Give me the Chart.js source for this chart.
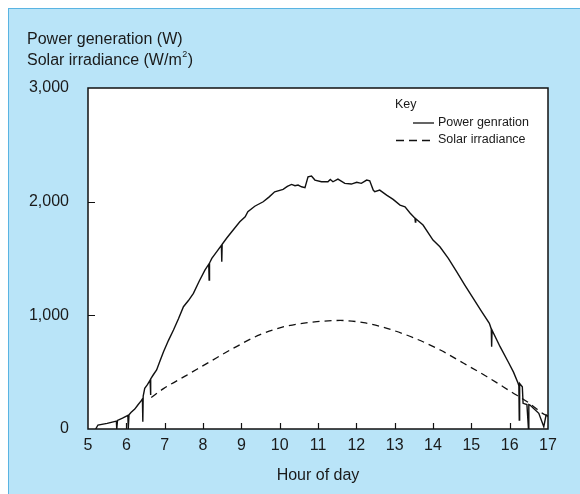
<!DOCTYPE html>
<html><head><meta charset="utf-8">
<script src="https://cdn.jsdelivr.net/npm/chart.js@4.4.1/dist/chart.umd.min.js"></script>
<style>
html,body{margin:0;padding:0;background:#fff;}
#wrap{position:relative;width:580px;height:494px;overflow:hidden;}
#panel{position:absolute;left:8px;top:8px;right:0;bottom:0;background:#b9e4f8;border-left:1px solid #5ab4e2;border-top:1px solid #5ab4e2;}
canvas{position:absolute;left:0;top:0;}
</style></head>
<body><div id="wrap"><div id="panel"></div><canvas id="c" width="580" height="494"></canvas></div>
<script>
const FONT = '"Liberation Sans", Arial, Helvetica, sans-serif';
const hourTicks = [5,6,7,8,9,10,11,12,13,14,15,16,17];
const valueTicks = [0,1000,2000,3000];
const titleLine1 = 'Power generation (W)';
const titleLine2 = 'Solar irradiance (W/m';
const legendTitle = 'Key';
const seriesNames = ['Power genration', 'Solar irradiance'];
const xAxisTitle = 'Hour of day';

const powerHours = [5.20,5.26,5.50,5.74,5.75,5.77,5.90,6.04,6.05,6.07,6.12,6.22,6.30,6.38,6.42,6.43,6.44,6.48,6.55,6.62,6.63,6.64,6.70,6.79,6.88,6.97,7.10,7.23,7.36,7.49,7.62,7.75,7.90,8.05,8.15,8.16,8.17,8.23,8.36,8.48,8.49,8.50,8.62,8.75,8.96,9.10,9.17,9.35,9.57,9.72,9.87,10.09,10.20,10.31,10.40,10.48,10.57,10.66,10.74,10.83,10.92,11.09,11.26,11.32,11.39,11.52,11.70,11.87,12.01,12.13,12.27,12.35,12.44,12.48,12.61,12.79,12.96,13.14,13.27,13.40,13.53,13.54,13.55,13.74,14.00,14.18,14.40,14.62,14.83,15.05,15.27,15.47,15.52,15.53,15.54,15.75,15.96,16.10,16.22,16.24,16.25,16.26,16.33,16.35,16.45,16.49,16.50,16.53,16.76,16.89,16.95,17.00];
const powerWatts = [0,35,50,70,0,75,95,120,0,125,145,175,211,245,265,64,290,358,390,430,300,440,475,519,600,680,780,871,970,1076,1130,1193,1300,1398,1450,1310,1460,1501,1560,1615,1471,1625,1680,1735,1823,1867,1911,1960,1999,2040,2087,2108,2135,2152,2140,2146,2131,2123,2219,2225,2190,2175,2175,2195,2175,2199,2161,2155,2170,2161,2190,2184,2102,2087,2102,2058,2020,1970,1955,1900,1853,1820,1850,1794,1662,1603,1501,1383,1266,1149,1032,930,880,724,870,724,592,500,402,380,79,400,372,226,215,0,215,211,138,20,123,110];

const irrHours = [6.65,6.97,7.57,8.18,8.79,9.49,10.19,10.97,11.58,12.19,12.80,13.49,14.19,14.80,15.41,16.05,16.50,16.92,17.00];
const irrValues = [277,355,472,592,710,830,906,944,955,935,885,803,695,578,460,325,230,125,115];

const toXY = (xs, ys) => xs.map((x, i) => ({x: x, y: ys[i]}));

const decor = {
  id: 'decor',
  beforeDatasetsDraw(chart) {
    const {ctx, chartArea: a} = chart;
    ctx.save();
    ctx.fillStyle = '#ffffff';
    ctx.fillRect(a.left, a.top, a.right - a.left, a.bottom - a.top);
    ctx.restore();
  },
  afterDatasetsDraw(chart) {
    const {ctx, chartArea: a, scales: {x, y}} = chart;
    ctx.save();
    ctx.strokeStyle = '#111';
    ctx.lineWidth = 1.5;
    ctx.strokeRect(a.left, a.top, a.right - a.left, a.bottom - a.top);
    ctx.lineWidth = 1.2;
    ctx.beginPath();
    hourTicks.slice(1, -1).forEach(h => {
      const px = Math.round(x.getPixelForValue(h)) + 0.5;
      ctx.moveTo(px, a.bottom); ctx.lineTo(px, a.bottom - 6);
    });
    valueTicks.slice(1, -1).forEach(v => {
      const py = Math.round(y.getPixelForValue(v)) + 0.5;
      ctx.moveTo(a.left, py); ctx.lineTo(a.left + 7, py);
    });
    ctx.stroke();

    // titles
    ctx.fillStyle = '#1a1a1a';
    ctx.textBaseline = 'middle';
    ctx.textAlign = 'left';
    ctx.font = '16px ' + FONT;
    ctx.fillText(titleLine1, 27, 40);
    ctx.fillText(titleLine2, 27, 61);
    let w = ctx.measureText(titleLine2).width;
    ctx.font = '9px ' + FONT;
    ctx.fillText('2', 27 + w + 0.5, 55);
    const w2 = ctx.measureText('2').width;
    ctx.font = '16px ' + FONT;
    ctx.fillText(')', 27 + w + w2 + 1, 61);

    // legend
    ctx.font = '12.5px ' + FONT;
    ctx.fillText(legendTitle, 395, 105);
    ctx.fillText(seriesNames[0], 438, 123);
    ctx.fillText(seriesNames[1], 438, 140);
    ctx.lineWidth = 1.3;
    ctx.strokeStyle = '#111';
    ctx.beginPath(); ctx.moveTo(413, 123); ctx.lineTo(434, 123); ctx.stroke();
    ctx.setLineDash([8, 5]);
    ctx.beginPath(); ctx.moveTo(396, 140.5); ctx.lineTo(434, 140.5); ctx.stroke();
    ctx.restore();
  }
};

new Chart(document.getElementById('c'), {
  type: 'line',
  data: {
    datasets: [
      {label: seriesNames[0], data: toXY(powerHours, powerWatts), borderColor: '#111', borderWidth: 1.4, pointRadius: 0, tension: 0, fill: false},
      {label: seriesNames[1], data: toXY(irrHours, irrValues), borderColor: '#111', borderWidth: 1.3, borderDash: [7, 5], pointRadius: 0, cubicInterpolationMode: 'monotone', fill: false}
    ]
  },
  options: {
    responsive: false,
    animation: false,
    events: [],
    layout: {padding: {left: 0, right: 32, top: 88, bottom: 0}},
    plugins: {legend: {display: false}, tooltip: {enabled: false}},
    scales: {
      x: {
        type: 'linear', min: 5, max: 17,
        afterBuildTicks: s => { s.ticks = hourTicks.map(v => ({value: v})); },
        afterFit: s => { s.height = 65; },
        grid: {display: false, drawTicks: false},
        border: {display: false},
        ticks: {padding: 7, color: '#1a1a1a', font: {family: FONT, size: 16}, maxRotation: 0, autoSkip: false, callback: v => String(v)},
        title: {display: true, text: xAxisTitle, color: '#1a1a1a', font: {family: FONT, size: 16}, padding: {top: 4, bottom: 9}}
      },
      y: {
        type: 'linear', min: 0, max: 3000,
        afterBuildTicks: s => { s.ticks = valueTicks.map(v => ({value: v})); },
        afterFit: s => { s.width = 88; },
        grid: {display: false, drawTicks: false},
        border: {display: false},
        ticks: {padding: 19, color: '#1a1a1a', font: {family: FONT, size: 16}, callback: v => v.toLocaleString('en-US')}
      }
    }
  },
  plugins: [decor]
});
</script>
</body></html>
